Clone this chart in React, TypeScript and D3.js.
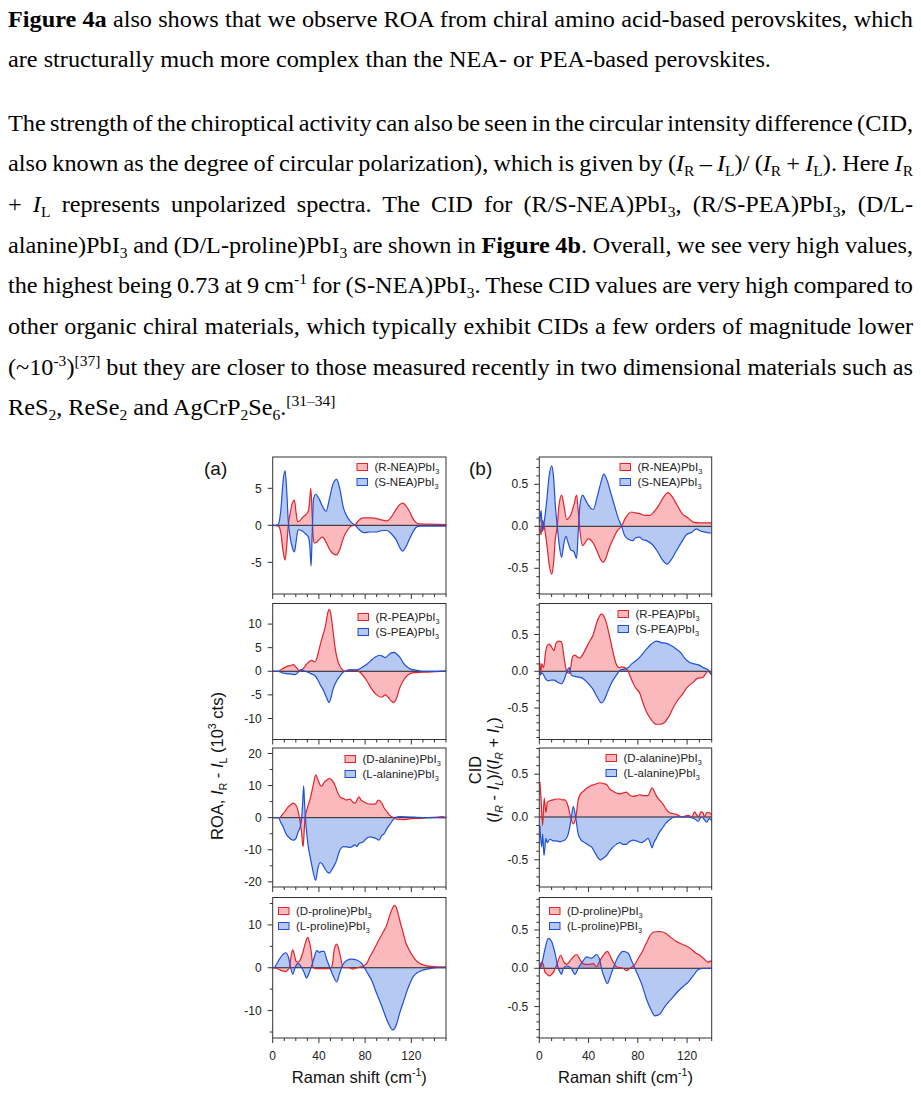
import React, { useLayoutEffect, useRef } from 'react';
import * as d3 from 'd3';

type Pt = [number, number];

// ---------- data (x: Raman shift cm-1, y: value) ----------
const roaRNEA: Pt[] = [[0,0],[5,-0.1],[7,-1],[9,-3.5],[10.7,-4.7],[12,-3],[13.5,0],[15,1.5],[17,3],[18.8,3.4],[20,2],[21.5,0.5],[24,0.7],[26,1.1],[29,1.5],[31,2.0],[32.3,4],[33,5.0],[34,2],[35,-1.5],[36,-2.4],[38,-2.3],[41,-1.8],[43,-1.6],[46,-2.2],[49,-3.2],[52,-3.8],[55.4,-4.0],[58,-3.3],[61,-1.8],[65,-0.6],[68,-0.1],[71,0],[74,0.6],[78,1.0],[82,1.0],[86,1.0],[90,0.9],[95,0.7],[99,0.6],[103,1.2],[107,2.2],[110,2.8],[112.6,3.0],[115,2.7],[118,2.0],[121,1.0],[124,0.4],[127,0.2],[135,0.15],[150,0.1]];
const roaSNEA: Pt[] = [[0,0],[3,0],[5,0.2],[7,2],[9,6],[10.7,7.4],[12,5],[13.5,0.5],[15,-1.5],[17,-3],[18.8,-3.6],[20,-2.5],[22,-0.6],[25,-0.7],[28,-1.1],[31,-1.6],[32.3,-3.2],[33.2,-5.5],[34.2,-1.0],[35.3,3.5],[37.2,4.2],[40,3.6],[43,2.6],[46.2,1.9],[49,3.5],[52,5.5],[55.4,6.2],[58,5.0],[61,2.5],[65,1.0],[68,0.4],[71.3,0],[75,-0.6],[79,-1.0],[84,-0.9],[90,-0.9],[95,-0.7],[99,-0.7],[103,-1.2],[107,-2.0],[110,-3.0],[112.6,-3.5],[115,-3.0],[118,-2.0],[121,-1.0],[124,-0.3],[127,-0.1],[135,-0.1],[150,-0.1]];

const cidRNEA: Pt[] = [[0.5,0],[1.4,-0.1],[2.7,0.07],[4,0.0],[6,-0.2],[8,-0.45],[10,-0.57],[11.5,-0.45],[13,-0.15],[14.6,0],[16,0.25],[18.1,0.37],[20,0.25],[22.2,0.08],[24,0.1],[25.9,0.15],[28,0.25],[30.3,0.37],[31.5,0.2],[33,-0.05],[35.1,-0.23],[37,-0.2],[39.7,-0.15],[43.8,-0.2],[47,-0.3],[50,-0.4],[52,-0.43],[54,-0.38],[57,-0.25],[60,-0.15],[63,-0.06],[66.8,0],[70,0.1],[74.9,0.17],[78,0.16],[81.6,0.15],[86,0.13],[89.7,0.13],[93,0.17],[97,0.25],[101,0.35],[104.6,0.4],[108,0.35],[112,0.25],[116,0.15],[120.8,0.1],[125,0.05],[130,0.04],[140,0.04]];
const cidSNEA: Pt[] = [[0.5,0.05],[1.4,0.19],[2.7,-0.06],[4,0.05],[6,0.3],[8,0.6],[10,0.72],[11.5,0.6],[13,0.25],[14.6,0],[16,-0.2],[18.1,-0.37],[20,-0.2],[21.6,-0.12],[23.5,-0.2],[25.5,-0.28],[28,-0.3],[30.3,-0.38],[31.5,-0.1],[33,0.25],[35.1,0.37],[37,0.33],[40,0.25],[43.8,0.2],[47,0.35],[50,0.52],[52.4,0.62],[55,0.55],[58,0.4],[61,0.25],[64,0.1],[66.8,0],[69,-0.1],[72,-0.15],[76,-0.17],[78,-0.14],[81.6,-0.13],[84,-0.16],[87,-0.17],[92,-0.22],[96,-0.3],[100,-0.4],[103.8,-0.45],[107,-0.4],[111,-0.3],[115,-0.2],[119.5,-0.1],[124,-0.07],[127.6,-0.03],[130,-0.05],[135,-0.07],[138,-0.08],[140,-0.08]];

const roaRPEA: Pt[] = [[0,0],[4.9,0],[8,0.5],[12,1.0],[15,1.2],[17.9,1.4],[20.5,0.8],[23.7,0],[26.5,0.6],[29.4,1.5],[31.5,2.0],[33.8,2.3],[36.7,2.0],[39,3.5],[41,5.5],[43.9,8.0],[46,10],[47.5,12.2],[48.8,13.1],[50,12.5],[52,9],[54,5],[56,2.5],[58.3,1.0],[60.5,0.3],[62.6,0],[67,0.3],[72.7,0.2],[76,-0.3],[78.5,-1],[81.4,-2],[85,-3.5],[90,-5.0],[94.4,-5.5],[97.3,-5.0],[100,-5.5],[102.5,-6.3],[105,-6.6],[107.5,-5.5],[110,-3.5],[113,-2.0],[117,-0.8],[121.8,-0.3],[130,-0.2],[140,-0.1],[150,0.1]];
const roaSPEA: Pt[] = [[0,0],[4.9,0],[8,-0.3],[12,-0.5],[16,-0.6],[19.3,-0.7],[22,-0.2],[24.5,0.4],[27,0.1],[29.4,-0.1],[33,-0.5],[36.7,-1.0],[39,-1.8],[41.5,-3],[43.9,-4],[46.5,-5.5],[48.8,-6.6],[50.5,-5.5],[52,-4],[55,-2.2],[58.3,-1],[60.5,-0.3],[62.6,0],[67,0.3],[72.7,0.3],[76,0.6],[78.5,1.0],[82,1.6],[86,2.5],[90,3.2],[92.9,3.4],[95,3.2],[97.3,2.9],[100,3.4],[102.5,3.9],[105,4.0],[107.5,3.6],[110,3.0],[113,1.8],[116,1.0],[120,0.4],[125,0.2],[130,0],[150,0]];

const cidRPEA: Pt[] = [[0,0.05],[0.5,0.12],[1,-0.05],[2,0.1],[3.5,0.05],[5,0.25],[6.5,0.35],[8.1,0.37],[10,0.33],[11.9,0.28],[13.5,0.38],[15.4,0.41],[18.1,0.4],[20,0.2],[22.2,0],[24.3,-0.03],[25.5,0.05],[27,0.2],[28.9,0.22],[31,0.19],[33,0.18],[36,0.25],[40,0.38],[43.8,0.5],[47,0.68],[50.5,0.78],[52,0.76],[54.6,0.65],[57,0.48],[60,0.25],[62,0.12],[64.9,0.05],[67,0.06],[69.5,0.05],[72.2,0],[75,-0.12],[78,-0.22],[81.6,-0.3],[84,-0.42],[87,-0.55],[91,-0.66],[95.1,-0.72],[98,-0.72],[101.4,-0.7],[105,-0.62],[108.6,-0.5],[112,-0.4],[116.8,-0.3],[120,-0.22],[124.9,-0.15],[128,-0.1],[133,-0.08],[137,0],[140,-0.05]];
const cidSPEA: Pt[] = [[0,0],[1,-0.05],[2,-0.02],[3.5,-0.05],[5,-0.1],[7.3,-0.13],[9.5,-0.12],[12,-0.12],[15,-0.15],[18.1,-0.17],[20.5,-0.1],[22.5,0],[24.3,0.05],[26,-0.05],[28.9,-0.07],[32,-0.08],[35.7,-0.1],[40,-0.17],[43.8,-0.25],[47,-0.35],[50.5,-0.43],[52.5,-0.4],[55,-0.3],[58,-0.18],[62.7,-0.05],[66,0.02],[69.5,0.03],[72.2,0.05],[75,0.1],[78.9,0.15],[82,0.2],[87,0.3],[91,0.37],[95.1,0.41],[99,0.39],[103.2,0.38],[107,0.35],[111.4,0.3],[115,0.25],[118,0.18],[122.2,0.12],[126,0.1],[130.3,0.08],[133,0.05],[137,0.02],[140,-0.05]];

const roaDala: Pt[] = [[0,0],[6,0],[8.5,1],[10.7,2],[13,3.2],[15.6,4.0],[17.9,4.5],[20.8,3.5],[23.1,0],[24.8,-4],[26.3,-9],[27.3,-4],[28,0],[30,3],[32.5,6],[35,10],[37.2,13.3],[39,12],[40.5,10.5],[42.4,9.8],[44.5,11],[47.3,11.8],[49,12.2],[51,11.8],[54,10],[56,8],[58.3,6.5],[62,5.8],[63.5,5.5],[67,5.8],[69,5.0],[71.3,4.5],[74.7,6.5],[76.5,5.5],[78.5,5.0],[81,4.5],[84.3,4.2],[88.6,4.2],[91.5,5.5],[94.5,4.5],[96.5,3.0],[98.7,2.0],[101,0.8],[103,0.3],[105,0],[107.4,-0.5],[113,-0.6],[120,-0.3],[127,-0.2],[135,0],[143,0.2],[147,0.3],[150,0.1]];
const roaLala: Pt[] = [[0,0],[5,0],[7,-1.5],[9.2,-3],[11.5,-5],[13.6,-6],[16,-6.8],[17.9,-7],[20,-6.5],[22,-4.5],[23.7,-3],[25.1,0],[26,5],[26.8,9.9],[27.5,5],[28.3,0],[29.5,-5],[30.8,-9],[32.3,-12],[34.5,-16],[37.2,-19.5],[39,-16],[41,-14],[43,-14.5],[45.3,-16],[47.5,-17],[49,-17.3],[51,-16.3],[54.6,-14],[58.3,-10],[61,-9],[64,-9.1],[67,-9.3],[71.3,-8.5],[72.7,-9],[75,-8],[78.5,-7.5],[81,-6.5],[84.3,-6],[87,-6.2],[89.5,-6.5],[92,-7],[94.5,-5.5],[96.5,-5],[98.7,-3.5],[101.6,-2],[104,-0.8],[106,0],[110.3,0.3],[120,0.2],[124.7,0.1],[135,0],[150,0]];

const cidDala: Pt[] = [[0.5,0.41],[1.5,0.2],[2.7,-0.1],[4,0.22],[5.4,0.05],[6.5,0.17],[8.5,0.19],[11.4,0.2],[14,0.21],[16.8,0.21],[18.8,0.2],[20.8,0.2],[23.5,0.12],[25.4,0],[27.6,-0.08],[29.7,0],[31.6,0.2],[33.5,0.27],[35.7,0.3],[38,0.33],[41,0.36],[45,0.38],[49.2,0.4],[52,0.39],[54.6,0.38],[57,0.33],[60,0.3],[62.5,0.28],[65.4,0.27],[68,0.28],[70.8,0.29],[73,0.26],[76.2,0.24],[79,0.25],[81.6,0.26],[84.5,0.25],[88.4,0.25],[90,0.3],[91.6,0.34],[93,0.31],[95,0.25],[97.5,0.2],[100.5,0.15],[103,0.09],[106,0.05],[111.4,0.03],[116,0],[121,0.02],[124,0.0],[126,0.06],[128,0.02],[129.6,0],[131,0.06],[133,0.05],[134,0],[136,0.05],[138,0.05],[140,0.02]];
const cidLala: Pt[] = [[0.5,-0.1],[1.9,-0.35],[2.7,-0.2],[3.8,-0.45],[5.4,-0.25],[6.5,-0.3],[8.5,-0.26],[11.4,-0.28],[14,-0.28],[16.8,-0.29],[18.8,-0.28],[20.8,-0.27],[23.5,-0.2],[25.6,-0.05],[27.6,0.12],[29.5,0],[31.6,-0.2],[34,-0.27],[37,-0.3],[40,-0.33],[42.4,-0.35],[44.5,-0.4],[46.5,-0.45],[49.7,-0.5],[52,-0.48],[54.6,-0.45],[57,-0.4],[60,-0.35],[62.5,-0.32],[65.4,-0.3],[68,-0.32],[70.8,-0.32],[73,-0.29],[76.2,-0.27],[79,-0.28],[83,-0.3],[85.5,-0.28],[88.4,-0.25],[90,-0.3],[91.6,-0.36],[93,-0.3],[95,-0.25],[97.5,-0.18],[100.5,-0.12],[103,-0.07],[106,-0.03],[110,0],[120,0],[126,-0.02],[129,-0.05],[131.5,0],[134,-0.03],[136,-0.06],[138,-0.02],[140,-0.04]];

const roaDpro: Pt[] = [[0,0],[3,-0.1],[6.3,-0.5],[9,-0.8],[11.5,-0.9],[13,-0.5],[14.4,0],[15.8,2.5],[17.3,4.2],[18.8,3],[20.2,1.5],[22,1.3],[23.7,1.8],[26,3.5],[28,5.5],[30.3,7.1],[31.8,6],[33.2,4],[35.2,0],[38,-0.2],[44,-0.2],[49.6,-0.2],[51.5,0.5],[53.1,4],[55.4,5.5],[57,4.5],[58.3,3],[61.2,0],[66,0],[69.8,-0.3],[72.7,0],[77,0.2],[79,0.5],[81.4,1.0],[84,2.5],[87.2,4],[90,5.5],[92.9,7],[96,8.5],[98.7,10],[101,12],[103,13.5],[105.3,14.5],[106.5,14.3],[108.2,13],[110.5,10.5],[113.1,8],[115,6],[117.5,4.5],[121.8,2.5],[124,1.7],[127.6,1],[131,0.6],[136.2,0.3],[143,0.2],[150,0.2]];
const roaLpro: Pt[] = [[0,0],[1.2,0],[3,0.7],[5.8,2],[8.5,3],[11.3,3.5],[13.6,2.5],[15.6,0],[17.3,-1.5],[19.3,0],[20.8,0.8],[22.2,1],[24.5,0.3],[27,-1],[29.4,-2.4],[31.8,-1],[34.3,1],[36,2.5],[38.1,4],[40.4,3.6],[42,3.8],[44.4,3.8],[46.7,2],[49.6,0],[52.5,-2],[55.4,-3.3],[57.7,-1.5],[60.3,0.5],[64,1.7],[68.4,2],[72.7,1.8],[77,1],[79.4,0],[82,-1.2],[85.7,-3],[90,-6],[93,-8],[95.8,-10],[99,-12.3],[101,-13.5],[103.9,-14.5],[105.5,-14.2],[107.4,-13],[110,-10.5],[113.1,-8],[117.5,-4.5],[121.8,-2],[127.6,-0.8],[136.2,-0.2],[142,0],[150,0]];

const cidDpro: Pt[] = [[0,0],[1.9,0.08],[3.2,0.05],[4.6,-0.05],[6.5,-0.08],[8.1,-0.1],[10,-0.08],[11.6,-0.05],[14.3,0.05],[17.3,0.17],[20,0.08],[22.2,0.05],[26,0.12],[30.3,0.18],[33.5,0.1],[37,0.05],[39.7,0.05],[43.8,0.06],[46.5,0.02],[49.2,0.1],[52,0.17],[55.4,0.22],[57,0.18],[59.4,0.1],[62.7,0.02],[68,0],[70.8,-0.03],[73.5,0],[77.6,0.05],[80,0.12],[83,0.2],[86,0.3],[88.4,0.38],[92.4,0.47],[97.8,0.48],[103.2,0.45],[107,0.4],[111.4,0.35],[115,0.32],[118.1,0.3],[123.5,0.25],[127,0.2],[130.3,0.17],[134,0.12],[137,0.08],[140,0.1]];
const cidLpro: Pt[] = [[0,0],[1.9,0.05],[4.6,0.25],[7.3,0.39],[10,0.35],[12.7,0.2],[15.4,0],[16.8,-0.05],[18.1,-0.08],[19.5,0],[22.2,0.03],[26,0],[28.9,-0.08],[31.6,0],[35.7,0.1],[38.4,0.15],[42.4,0.13],[46.5,0.18],[49.2,0.1],[50.5,0],[52.4,-0.1],[55.4,-0.2],[57.8,-0.1],[60,0],[64,0.15],[68,0.22],[72,0.2],[74.9,0.1],[77.6,0],[83,-0.2],[87,-0.4],[91,-0.55],[93.8,-0.62],[97.8,-0.6],[101.9,-0.5],[107.3,-0.4],[112.7,-0.3],[118.1,-0.22],[121,-0.18],[124.9,-0.1],[128.9,-0.02],[133,0],[140,0]];

// tick labels
const xMajorTicks = [0, 40, 80, 120];
const roaTicksNEA = [-5, 0, 5];
const roaTicksPEA = [-10, -5, 0, 5, 10];
const roaTicksAla = [-20, -10, 0, 10, 20];
const roaTicksPro = [-10, 0, 10];
const cidTicks = [-0.5, 0, 0.5];

// legend names
const namesRed = ['(R-NEA)PbI', '(R-PEA)PbI', '(D-alanine)PbI', '(D-proline)PbI'];
const namesBlue = ['(S-NEA)PbI', '(S-PEA)PbI', '(L-alanine)PbI', '(L-proline)PbI'];
const namesBlueCid = ['(S-NEA)PbI', '(S-PEA)PbI', '(L-alanine)PbI', '(L-proline)PBI'];

// ---------- styling / layout ----------
const W = 921, H = 1094;
const RED = '#e2232b', BLUE = '#1f4fd6';
const RED_FILL = 'rgba(240,80,90,0.4)', BLUE_FILL = 'rgba(70,120,225,0.4)';
const AX = '#333';
const SANS = '"Liberation Sans", Arial, Helvetica, sans-serif';
const SERIF = '"Liberation Serif", "Times New Roman", serif';

const cols = {
  a: { left: 272.7, right: 446, xMax: 150 },
  b: { left: 539.3, right: 711.7, xMax: 140 },
};
const rowTops = [457, 603.5, 748, 897.5];
const rowBottoms = [594, 739.5, 887, 1038];

interface PanelDef {
  id: string; col: 'a' | 'b'; row: number; red: Pt[]; blue: Pt[];
  redName: string; blueName: string; domain: [number, number];
  major: number[]; minorStep: number; dec: number; legend: [number, number];
}

const panels: PanelDef[] = [
  { id: 'a1', col: 'a', row: 0, red: roaRNEA, blue: roaSNEA, redName: namesRed[0], blueName: namesBlue[0], domain: [-9.28, 9.23], major: roaTicksNEA, minorStep: 0, dec: 0, legend: [357, 467] },
  { id: 'a2', col: 'a', row: 1, red: roaRPEA, blue: roaSPEA, redName: namesRed[1], blueName: namesBlue[1], domain: [-14.45, 14.36], major: roaTicksPEA, minorStep: 0, dec: 0, legend: [358, 617] },
  { id: 'a3', col: 'a', row: 2, red: roaDala, blue: roaLala, redName: namesRed[2], blueName: namesBlue[2], domain: [-21.6, 21.7], major: roaTicksAla, minorStep: 5, dec: 0, legend: [345, 759] },
  { id: 'a4', col: 'a', row: 3, red: roaDpro, blue: roaLpro, redName: namesRed[3], blueName: namesBlue[3], domain: [-16.4, 16.4], major: roaTicksPro, minorStep: 5, dec: 0, legend: [278.5, 911] },
  { id: 'b1', col: 'b', row: 0, red: cidRNEA, blue: cidSNEA, redName: namesRed[0], blueName: namesBlueCid[0], domain: [-0.806, 0.825], major: cidTicks, minorStep: 0.1, dec: 1, legend: [620, 467] },
  { id: 'b2', col: 'b', row: 1, red: cidRPEA, blue: cidSPEA, redName: namesRed[1], blueName: namesBlueCid[1], domain: [-0.927, 0.921], major: cidTicks, minorStep: 0.1, dec: 1, legend: [618, 614] },
  { id: 'b3', col: 'b', row: 2, red: cidDala, blue: cidLala, redName: namesRed[2], blueName: namesBlueCid[2], domain: [-0.818, 0.806], major: cidTicks, minorStep: 0.1, dec: 1, legend: [606, 758] },
  { id: 'b4', col: 'b', row: 3, red: cidDpro, blue: cidLpro, redName: namesRed[3], blueName: namesBlueCid[3], domain: [-0.91, 0.924], major: cidTicks, minorStep: 0.1, dec: 1, legend: [549.5, 911] },
];

// ---------- text ----------
type Seg = { t: string; b?: boolean; i?: boolean; sub?: boolean; sup?: boolean };
const s = (t: string): Seg => ({ t });
const sb = (t: string): Seg => ({ t, sub: true });
const sp = (t: string): Seg => ({ t, sup: true });

function renderSegs(segs: Seg[], size: number) {
  let cur = 0;
  return segs.map((g, k) => {
    const target = g.sub ? size * 0.22 : g.sup ? -size * 0.4 : 0;
    const dy = target - cur;
    cur = target;
    return (
      <tspan key={k} dy={dy} fontWeight={g.b ? 'bold' : undefined} fontStyle={g.i ? 'italic' : undefined}
        fontSize={g.sub || g.sup ? size * 0.64 : undefined}>{g.t}</tspan>
    );
  });
}

const TEXT_L = 8, TEXT_W = 905, TEXT_SIZE = 23, TEXT_SX = 1.055;
const paraLines: { segs: Seg[]; y: number; justify: boolean }[] = [
  { y: 27.3, justify: true, segs: [{ t: 'Figure 4a', b: true }, s(' also shows that we observe ROA from chiral amino acid-based perovskites, which')] },
  { y: 66.7, justify: false, segs: [s('are structurally much more complex than the NEA- or PEA-based perovskites.')] },
  { y: 130.5, justify: true, segs: [s('The strength of the chiroptical activity can also be seen in the circular intensity difference (CID,')] },
  { y: 171.2, justify: true, segs: [s('also known as the degree of circular polarization), which is given by ('), { t: 'I', i: true }, sb('R'), s(' – '), { t: 'I', i: true }, sb('L'), s(')/ ('), { t: 'I', i: true }, sb('R'), s(' + '), { t: 'I', i: true }, sb('L'), s('). Here '), { t: 'I', i: true }, sb('R')] },
  { y: 211.9, justify: true, segs: [s('+ '), { t: 'I', i: true }, sb('L'), s(' represents unpolarized spectra. The CID for (R/S-NEA)PbI'), sb('3'), s(', (R/S-PEA)PbI'), sb('3'), s(', (D/L-')] },
  { y: 252.6, justify: true, segs: [s('alanine)PbI'), sb('3'), s(' and (D/L-proline)PbI'), sb('3'), s(' are shown in '), { t: 'Figure 4b', b: true }, s('. Overall, we see very high values,')] },
  { y: 293.3, justify: true, segs: [s('the highest being 0.73 at 9 cm'), sp('-1'), s(' for (S-NEA)PbI'), sb('3'), s('. These CID values are very high compared to')] },
  { y: 334, justify: true, segs: [s('other organic chiral materials, which typically exhibit CIDs a few orders of magnitude lower')] },
  { y: 374.7, justify: true, segs: [s('(~10'), sp('-3'), s(')'), sp('[37]'), s(' but they are closer to those measured recently in two dimensional materials such as')] },
  { y: 415.4, justify: false, segs: [s('ReS'), sb('2'), s(', ReSe'), sb('2'), s(' and AgCrP'), sb('2'), s('Se'), sb('6'), s('.'), sp('[31–34]')] },
];

function Panel({ p }: { p: PanelDef }) {
  const c = cols[p.col];
  const top = rowTops[p.row], bottom = rowBottoms[p.row];
  const x = d3.scaleLinear().domain([0, c.xMax]).range([c.left, c.right]);
  const y = d3.scaleLinear().domain(p.domain).range([bottom, top]);
  const area = d3.area<Pt>().x(d => x(d[0])).y0(y(0)).y1(d => y(d[1])).curve(d3.curveMonotoneX);
  const line = d3.line<Pt>().x(d => x(d[0])).y(d => y(d[1])).curve(d3.curveMonotoneX);
  const clip = `clip-${p.id}`;
  const xMinor = d3.range(0, c.xMax + 0.001, 10);
  const yMinor = p.minorStep > 0
    ? d3.range(Math.ceil(p.domain[0] / p.minorStep), Math.floor(p.domain[1] / p.minorStep) + 1)
        .map(k => +(k * p.minorStep).toFixed(3))
        .filter(v => !p.major.some(m => Math.abs(m - v) < 1e-6))
    : [];
  const isBottom = p.row === 3;
  const [lx, ly] = p.legend;
  const LF = 11.5;
  return (
    <g>
      <defs>
        <clipPath id={clip}><rect x={c.left} y={top} width={c.right - c.left} height={bottom - top} /></clipPath>
      </defs>
      <g clipPath={`url(#${clip})`}>
        <path d={area(p.red) || ''} fill={RED_FILL} />
        <path d={area(p.blue) || ''} fill={BLUE_FILL} />
        <line x1={c.left} x2={c.right} y1={y(0)} y2={y(0)} stroke="#222" strokeWidth={1} />
        <path d={line(p.red) || ''} fill="none" stroke={RED} strokeWidth={1.2} strokeLinejoin="round" />
        <path d={line(p.blue) || ''} fill="none" stroke={BLUE} strokeWidth={1.2} strokeLinejoin="round" />
      </g>
      <rect x={c.left} y={top} width={c.right - c.left} height={bottom - top} fill="none" stroke={AX} strokeWidth={1} />
      {xMinor.map(v => {
        const maj = v % 40 === 0;
        return <line key={'xt' + v} x1={x(v)} x2={x(v)} y1={bottom} y2={bottom + (maj ? 5 : 3)} stroke={AX} strokeWidth={1} />;
      })}
      {isBottom && xMajorTicks.map(v => (
        <text key={'xl' + v} x={x(v)} y={1060} textAnchor="middle" fontSize={12} fontFamily={SANS} fill="#222">{v}</text>
      ))}
      {p.major.map(v => (
        <g key={'ym' + v}>
          <line x1={c.left - 5} x2={c.left} y1={y(v)} y2={y(v)} stroke={AX} strokeWidth={1} />
          <text x={c.left - 11} y={y(v) + 4.2} textAnchor="end" fontSize={12} fontFamily={SANS} fill="#222">
            {p.dec ? (v < 0 ? '-' : '') + Math.abs(v).toFixed(p.dec) : (v < 0 ? '-' : '') + Math.abs(v)}
          </text>
        </g>
      ))}
      {yMinor.map(v => (
        <line key={'yn' + v} x1={c.left - 3} x2={c.left} y1={y(v)} y2={y(v)} stroke={AX} strokeWidth={1} />
      ))}
      <rect x={lx} y={ly - 3.5} width={10.5} height={7} fill={RED_FILL} stroke={RED} strokeWidth={1} />
      <text x={lx + 17.5} y={ly + 4} fontSize={LF} fontFamily={SANS} fill="#222">{renderSegs([s(p.redName), sb('3')], LF)}</text>
      <rect x={lx} y={ly + 15 - 3.5} width={10.5} height={7} fill={BLUE_FILL} stroke={BLUE} strokeWidth={1} />
      <text x={lx + 17.5} y={ly + 19} fontSize={LF} fontFamily={SANS} fill="#222">{renderSegs([s(p.blueName), sb('3')], LF)}</text>
    </g>
  );
}

export default function App() {
  const refs = useRef<(SVGTextElement | null)[]>([]);
  useLayoutEffect(() => {
    paraLines.forEach((ln, i) => {
      const el = refs.current[i];
      if (!el || !ln.justify) return;
      el.style.wordSpacing = '0px';
      const len = el.getComputedTextLength();
      const n = (el.textContent || '').split(' ').length - 1;
      if (n > 0) el.style.wordSpacing = `${(TEXT_W / TEXT_SX - len) / n}px`;
    });
  }, []);

  return (
    <div style={{ position: 'absolute', left: 0, top: 0, width: W, height: H, background: '#fff' }}>
      <svg width={W} height={H} style={{ display: 'block' }}>
        {paraLines.map((ln, i) => (
          <text key={'p' + i} ref={el => { refs.current[i] = el; }} x={0} y={0}
            transform={`translate(${TEXT_L},${ln.y}) scale(${TEXT_SX},1)`}
            fontFamily={SERIF} fontSize={TEXT_SIZE} fill="#000" style={{ whiteSpace: 'pre' }}>
            {renderSegs(ln.segs, TEXT_SIZE)}
          </text>
        ))}

        {panels.map(p => <Panel key={p.id} p={p} />)}

        <text x={204} y={475} fontSize={19} fontFamily={SANS} fill="#111">(a)</text>
        <text x={469} y={475} fontSize={19} fontFamily={SANS} fill="#111">(b)</text>

        <text transform="translate(223,766) rotate(-90)" textAnchor="middle" fontSize={16.5} fontFamily={SANS} fill="#111" style={{ whiteSpace: 'pre' }}>
          {renderSegs([s('ROA, '), { t: 'I', i: true }, sb('R'), s(' - '), { t: 'I', i: true }, sb('L'), s(' (10'), sp('3'), s(' cts)')], 16.5)}
        </text>
        <text transform="translate(481,770) rotate(-90)" textAnchor="middle" fontSize={16.5} fontFamily={SANS} fill="#111">CID</text>
        <text transform="translate(499,770) rotate(-90)" textAnchor="middle" fontSize={16.5} fontFamily={SANS} fill="#111" style={{ whiteSpace: 'pre' }}>
          {renderSegs([s('('), { t: 'I', i: true }, { t: 'R', i: true, sub: true }, s(' - '), { t: 'I', i: true }, { t: 'L', i: true, sub: true }, s(')/('), { t: 'I', i: true }, { t: 'R', i: true, sub: true }, s(' + '), { t: 'I', i: true }, { t: 'L', i: true, sub: true }, s(')')], 16.5)}
        </text>
        <text x={(cols.a.left + cols.a.right) / 2} y={1083} textAnchor="middle" fontSize={16.5} fontFamily={SANS} fill="#111" style={{ whiteSpace: 'pre' }}>
          {renderSegs([s('Raman shift (cm'), sp('-1'), s(')')], 16.5)}
        </text>
        <text x={(cols.b.left + cols.b.right) / 2} y={1083} textAnchor="middle" fontSize={16.5} fontFamily={SANS} fill="#111" style={{ whiteSpace: 'pre' }}>
          {renderSegs([s('Raman shift (cm'), sp('-1'), s(')')], 16.5)}
        </text>
      </svg>
    </div>
  );
}
